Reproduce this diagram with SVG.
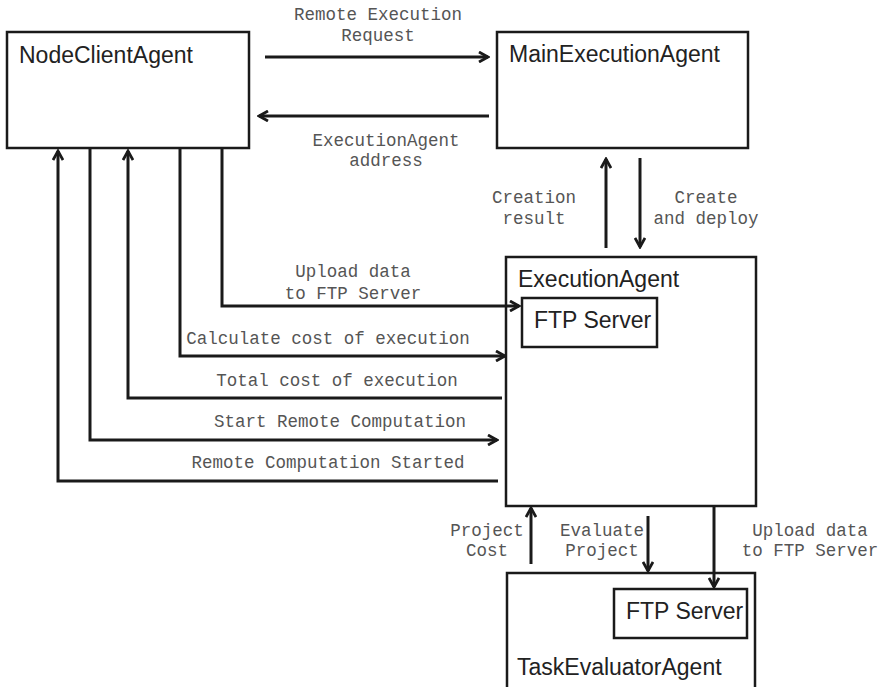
<svg xmlns="http://www.w3.org/2000/svg" width="881" height="687" viewBox="0 0 881 687">
<style>
.box{fill:#fff;stroke:#1a1a1a;stroke-width:2.5}
.name{font-family:"Liberation Sans",Arial,sans-serif;font-size:23px;fill:#222}
.lbl{font-family:"Liberation Mono","Courier New",monospace;font-size:17.5px;fill:#555;text-anchor:middle}
.c{fill:none;stroke:#1a1a1a;stroke-width:3}
</style>
<defs>
<marker id="ah" viewBox="0 0 12 12" refX="10" refY="6" markerWidth="12" markerHeight="12" markerUnits="userSpaceOnUse" orient="auto">
<path d="M1,1 L10,6 L1,11" fill="none" stroke="#1a1a1a" stroke-width="2.8"/>
</marker>
</defs>
<rect width="881" height="687" fill="#fff"/>
<g id="NodeClientAgent">
<rect class="box" x="7" y="32" width="242" height="116"/>
<text class="name" x="19" y="63">NodeClientAgent</text>
</g>
<g id="MainExecutionAgent">
<rect class="box" x="497" y="32" width="251" height="116"/>
<text class="name" x="509" y="62">MainExecutionAgent</text>
</g>
<g id="ExecutionAgent">
<rect class="box" x="506" y="257" width="250" height="249"/>
<text class="name" x="518" y="287">ExecutionAgent</text>
</g>
<g id="ExecFTPServer">
<rect class="box" x="522" y="298" width="135" height="49"/>
<text class="name" x="534" y="328">FTP Server</text>
</g>
<g id="TaskEvaluatorAgent">
<rect class="box" x="507" y="573" width="248" height="130"/>
<text class="name" x="517" y="675">TaskEvaluatorAgent</text>
</g>
<g id="TaskFTPServer">
<rect class="box" x="614" y="589" width="133" height="49"/>
<text class="name" x="626" y="619">FTP Server</text>
</g>
<g id="connectors">
<path class="c" d="M265,57 H488" marker-end="url(#ah)"/>
<path class="c" d="M489,116 H259" marker-end="url(#ah)"/>
<path class="c" d="M606,248 V159" marker-end="url(#ah)"/>
<path class="c" d="M640,158 V247" marker-end="url(#ah)"/>
<path class="c" d="M222,148 V306 H519" marker-end="url(#ah)"/>
<path class="c" d="M180,148 V356 H505" marker-end="url(#ah)"/>
<path class="c" d="M502,398 H128 V151" marker-end="url(#ah)"/>
<path class="c" d="M90,148 V440 H497" marker-end="url(#ah)"/>
<path class="c" d="M498,481 H58 V151" marker-end="url(#ah)"/>
<path class="c" d="M531,564 V508" marker-end="url(#ah)"/>
<path class="c" d="M648,516 V571" marker-end="url(#ah)"/>
<path class="c" d="M714,506 V587" marker-end="url(#ah)"/>
<text class="lbl" x="378" y="20">Remote Execution</text>
<text class="lbl" x="378" y="41">Request</text>
<text class="lbl" x="386" y="146">ExecutionAgent</text>
<text class="lbl" x="386" y="166">address</text>
<text class="lbl" x="534" y="203">Creation</text>
<text class="lbl" x="534" y="224">result</text>
<text class="lbl" x="706" y="203">Create</text>
<text class="lbl" x="706" y="224">and deploy</text>
<text class="lbl" x="353" y="277">Upload data</text>
<text class="lbl" x="353" y="299">to FTP Server</text>
<text class="lbl" x="328" y="344">Calculate cost of execution</text>
<text class="lbl" x="337" y="386">Total cost of execution</text>
<text class="lbl" x="340" y="427">Start Remote Computation</text>
<text class="lbl" x="328" y="468">Remote Computation Started</text>
<text class="lbl" x="487" y="536">Project</text>
<text class="lbl" x="487" y="556">Cost</text>
<text class="lbl" x="602" y="536">Evaluate</text>
<text class="lbl" x="602" y="556">Project</text>
<text class="lbl" x="810" y="536">Upload data</text>
<text class="lbl" x="810" y="556">to FTP Server</text>
</g>
</svg>
